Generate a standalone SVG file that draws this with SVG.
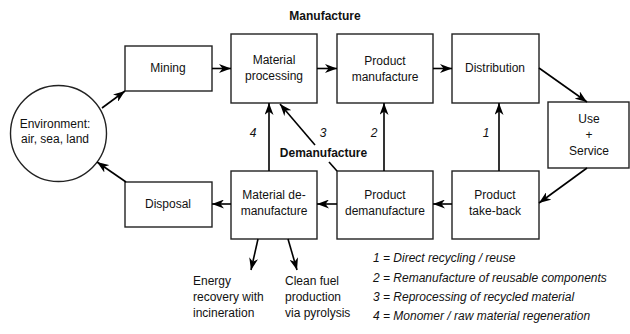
<svg xmlns="http://www.w3.org/2000/svg" width="630" height="334" viewBox="0 0 630 334">
<style>
.box{fill:#fff;stroke:#222;stroke-width:1.4}
.t{font-family:"Liberation Sans",Arial,sans-serif;font-size:12px;fill:#111;text-anchor:middle}
.b{font-weight:bold}
.i{font-style:italic}
.l{text-anchor:start}
.c{fill:none;stroke:#000;stroke-width:1.6}
</style>
<defs>
<marker id="ah" markerUnits="userSpaceOnUse" markerWidth="13" markerHeight="9" refX="12" refY="4.5" orient="auto">
<path d="M0,0 L12,4.5 L0,9 L3.5,4.5 Z" fill="#000"/>
</marker>
</defs>
<rect width="630" height="334" fill="#fff"/>
<text class="t b" x="325" y="20">Manufacture</text>
<g id="environment"><circle class="box" cx="58.5" cy="133.5" r="48"/><text class="t" x="55" y="128">Environment:</text><text class="t" x="55" y="143">air, sea, land</text></g>
<g id="mining"><rect class="box" x="125" y="46" width="87" height="45"/><text class="t" x="168" y="72">Mining</text></g>
<g id="material-processing"><rect class="box" x="231" y="34" width="86" height="69"/><text class="t" x="274" y="64">Material</text><text class="t" x="274" y="80">processing</text></g>
<g id="product-manufacture"><rect class="box" x="337" y="34" width="96" height="69"/><text class="t" x="385" y="65">Product</text><text class="t" x="385" y="81">manufacture</text></g>
<g id="distribution"><rect class="box" x="452" y="34" width="87" height="69"/><text class="t" x="495" y="72">Distribution</text></g>
<g id="use-service"><rect class="box" x="548" y="102" width="81" height="66"/><text class="t" x="589" y="123">Use</text><text class="t" x="589" y="139">+</text><text class="t" x="589" y="155">Service</text></g>
<g id="disposal"><rect class="box" x="125" y="182" width="87" height="45"/><text class="t" x="168" y="208">Disposal</text></g>
<g id="material-demanufacture"><rect class="box" x="231" y="171" width="86" height="68"/><text class="t" x="274" y="199">Material de-</text><text class="t" x="274" y="215">manufacture</text></g>
<g id="product-demanufacture"><rect class="box" x="337" y="171" width="96" height="68"/><text class="t" x="385" y="199">Product</text><text class="t" x="385" y="215">demanufacture</text></g>
<g id="product-take-back"><rect class="box" x="452" y="171" width="87" height="68"/><text class="t" x="495" y="199">Product</text><text class="t" x="495" y="215">take-back</text></g>
<g id="connectors">
<line class="c" x1="102" y1="108" x2="125" y2="91" marker-end="url(#ah)"/>
<line class="c" x1="212" y1="68.5" x2="231" y2="68.5" marker-end="url(#ah)"/>
<line class="c" x1="317" y1="68.5" x2="337" y2="68.5" marker-end="url(#ah)"/>
<line class="c" x1="433" y1="68.5" x2="452" y2="68.5" marker-end="url(#ah)"/>
<line class="c" x1="539" y1="68" x2="587" y2="102" marker-end="url(#ah)"/>
<line class="c" x1="587" y1="168" x2="539" y2="203" marker-end="url(#ah)"/>
<line class="c" x1="452" y1="204" x2="433" y2="204" marker-end="url(#ah)"/>
<line class="c" x1="337" y1="204" x2="317" y2="204" marker-end="url(#ah)"/>
<line class="c" x1="231" y1="204" x2="212" y2="204" marker-end="url(#ah)"/>
<line class="c" x1="126" y1="182" x2="97" y2="162" marker-end="url(#ah)"/>
<line class="c" x1="269" y1="171" x2="269" y2="103" marker-end="url(#ah)"/>
<line class="c" x1="384" y1="171" x2="384" y2="103" marker-end="url(#ah)"/>
<line class="c" x1="499" y1="171" x2="499" y2="103" marker-end="url(#ah)"/>
<line class="c" x1="337" y1="171" x2="329" y2="162"/>
<line class="c" x1="315" y1="145" x2="280" y2="104" marker-end="url(#ah)"/>
<line class="c" x1="258" y1="239" x2="251" y2="270" marker-end="url(#ah)"/>
<line class="c" x1="288" y1="239" x2="297" y2="270" marker-end="url(#ah)"/>
</g>
<text class="t i" x="253" y="137">4</text>
<text class="t i" x="323" y="137">3</text>
<text class="t i" x="374" y="137">2</text>
<text class="t i" x="486" y="137">1</text>
<text class="t b" x="323.5" y="157">Demanufacture</text>
<text class="t l" x="193" y="285">Energy</text>
<text class="t l" x="193" y="301">recovery with</text>
<text class="t l" x="193" y="317">incineration</text>
<text class="t l" x="285" y="285">Clean fuel</text>
<text class="t l" x="285" y="301">production</text>
<text class="t l" x="285" y="317">via pyrolysis</text>
<text class="t i l" x="373" y="262">1 = Direct recycling / reuse</text>
<text class="t i l" x="373" y="282">2 = Remanufacture of reusable components</text>
<text class="t i l" x="373" y="301">3 = Reprocessing of recycled material</text>
<text class="t i l" x="373" y="320">4 = Monomer / raw material regeneration</text>
</svg>
